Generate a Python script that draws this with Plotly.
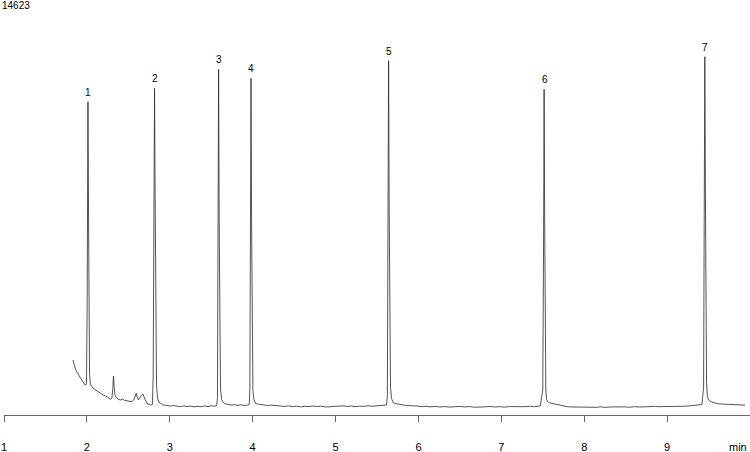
import plotly.graph_objects as go

# Chromatogram trace (time in min, detector signal)
time_min = [
    1.831, 1.845, 1.859, 1.878, 1.895, 1.912, 1.932, 1.948, 1.959, 1.972, 1.985,
    1.995, 2.003, 2.008, 2.013, 2.018, 2.024, 2.032, 2.042, 2.061, 2.090, 2.120,
    2.161, 2.200, 2.242, 2.282, 2.302, 2.313, 2.321, 2.329, 2.340, 2.354, 2.375,
    2.402, 2.430, 2.455, 2.483, 2.515, 2.544, 2.571, 2.585, 2.595, 2.606, 2.623,
    2.638, 2.655, 2.676, 2.690, 2.705, 2.725, 2.745, 2.764, 2.780, 2.790, 2.800,
    2.808, 2.816, 2.823, 2.830, 2.840, 2.852,
    2.865, 2.890, 2.925, 2.960, 3.006, 3.050, 3.090, 3.127, 3.170, 3.210, 3.250,
    3.300, 3.340, 3.380, 3.420, 3.460, 3.500, 3.540, 3.565, 3.575, 3.582, 3.589,
    3.596, 3.603, 3.612, 3.625, 3.645, 3.670, 3.700, 3.740, 3.780, 3.820, 3.860,
    3.900, 3.940, 3.958, 3.966, 3.973, 3.980, 3.987, 3.994, 4.003, 4.015, 4.032,
    4.070, 4.128, 4.180, 4.230, 4.280, 4.333, 4.380, 4.430, 4.480, 4.530, 4.580,
    4.630, 4.680, 4.730, 4.780, 4.830, 4.880, 4.937, 4.990, 5.040, 5.090, 5.140,
    5.190, 5.240, 5.290, 5.340, 5.390, 5.440, 5.490, 5.540, 5.590, 5.615, 5.625,
    5.633, 5.640, 5.647, 5.654, 5.663, 5.675, 5.697, 5.730, 5.770, 5.818, 5.860,
    5.900, 5.950, 5.986, 6.040, 6.090, 6.140, 6.200, 6.260, 6.320, 6.380, 6.440,
    6.500, 6.560, 6.620, 6.680, 6.740, 6.800, 6.860, 6.920, 6.980, 7.040, 7.100,
    7.160, 7.220, 7.280, 7.340, 7.400, 7.470, 7.500, 7.510, 7.516, 7.523, 7.530,
    7.537, 7.546, 7.560, 7.580, 7.610, 7.652, 7.700, 7.750, 7.793, 7.850, 7.910,
    7.970, 8.030, 8.090, 8.150, 8.195, 8.250, 8.310, 8.370, 8.430, 8.490, 8.550,
    8.610, 8.670, 8.730, 8.790, 8.850, 8.910, 8.960, 9.000, 9.060, 9.120, 9.180,
    9.240, 9.300, 9.340, 9.378, 9.420, 9.440, 9.448, 9.455, 9.462, 9.469, 9.476,
    9.485, 9.500, 9.530, 9.559, 9.600, 9.650, 9.725, 9.800, 9.870, 9.940, 10.000,
]
signal = [
    1986, 1820, 1697, 1560, 1480, 1390, 1300, 1210, 1145, 1100, 1083,
    1150, 3800, 8600, 11312, 8200, 3600, 1500, 1120, 1022, 930, 860,
    794, 720, 661, 567, 614, 950, 1408, 1000, 720, 639, 578,
    542, 570, 530, 516, 500, 480, 578, 700, 783, 650, 542,
    600, 700, 758, 620, 542, 422, 390, 361, 372, 380, 1400,
    7800, 11796, 8000, 3000, 1100, 620,
    480, 420, 361, 345, 325, 340, 310, 300, 330, 305, 320,
    295, 315, 300, 325, 305, 330, 320, 345, 600, 6500, 12482,
    7000, 2500, 950, 560, 450, 400, 380, 361, 370, 350, 365,
    345, 361, 380, 900, 7000, 12157, 7000, 2400, 900, 560, 422,
    390, 361, 345, 355, 330, 325, 310, 330, 300, 320, 295,
    315, 300, 325, 305, 320, 290, 300, 320, 305, 330, 310,
    325, 300, 320, 310, 335, 315, 330, 325, 340, 360, 700,
    7000, 12793, 7500, 2800, 1000, 600, 444, 410, 380, 361, 340,
    345, 330, 325, 300, 315, 295, 310, 290, 305, 285, 300,
    310, 290, 305, 280, 300, 295, 310, 290, 300, 285, 305,
    295, 310, 300, 315, 300, 330, 900, 6500, 11760, 7000,
    2500, 900, 560, 480, 440, 422, 370, 345, 325, 300, 290,
    285, 300, 280, 290, 278, 295, 275, 290, 300, 285, 295,
    280, 300, 290, 305, 295, 310, 300, 300, 290, 310, 300,
    315, 320, 335, 361, 370, 380, 1000, 7500, 12937, 8000, 3000,
    1200, 700, 560, 480, 440, 410, 397, 380, 370, 365, 361,
]

peak_labels = ["1", "2", "3", "4", "5", "6", "7"]
peak_times = [2.013, 2.816, 3.589, 3.980, 5.640, 7.523, 9.462]
peak_heights = [11312, 11796, 12482, 12157, 12793, 11760, 12937]

x_ticks = [1, 2, 3, 4, 5, 6, 7, 8, 9]
x_range = [1, 10]
y_range = [0, 14623]
y_max_label = "14623"
x_unit = "min"

FONT = "Liberation Sans, Arial, sans-serif"

fig = go.Figure()
fig.add_trace(go.Scatter(
    x=time_min, y=signal, mode="lines",
    line=dict(color="#2a2a2a", width=0.8),
    hoverinfo="skip", showlegend=False,
))

for lab, t, h in zip(peak_labels, peak_times, peak_heights):
    fig.add_annotation(
        x=t, y=h, text=lab, showarrow=False,
        xanchor="center", yanchor="bottom", yshift=2,
        font=dict(family=FONT, size=10, color="#000"),
    )

fig.add_annotation(
    xref="paper", yref="paper", x=0, y=1, text=y_max_label, showarrow=False,
    xanchor="left", yanchor="middle", xshift=-4, yshift=4.5,
    font=dict(family=FONT, size=10, color="#000"),
)
fig.add_annotation(
    xref="paper", yref="paper", x=1, y=0, text=x_unit, showarrow=False,
    xanchor="right", yanchor="middle", xshift=-1, yshift=-32,
    font=dict(family=FONT, size=11, color="#000"),
)

fig.update_layout(
    width=750, height=452,
    margin=dict(l=4, r=0, t=10, b=37),
    paper_bgcolor="white", plot_bgcolor="white",
    showlegend=False,
    xaxis=dict(
        range=x_range, tickvals=x_ticks, ticks="outside", ticklen=6,
        tickcolor="#666", tickwidth=1, showline=True, linecolor="#666",
        linewidth=1, showgrid=False, zeroline=False,
        tickfont=dict(family=FONT, size=11, color="#000"),
        ticklabelstandoff=16, automargin=False,
    ),
    yaxis=dict(range=y_range, visible=False, showgrid=False, zeroline=False),
)

fig.write_html("out.html")
